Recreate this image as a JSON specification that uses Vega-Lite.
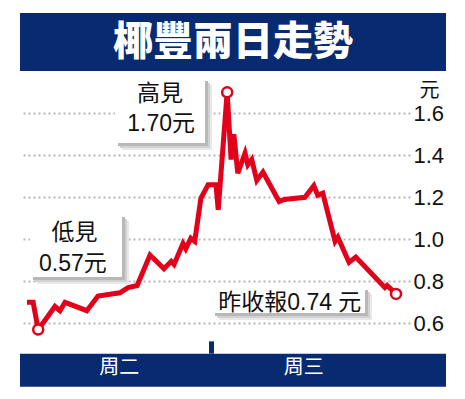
{
  "$schema": "https://vega.github.io/schema/vega-lite/v6.json",
  "width": 390,
  "height": 399,
  "autosize": "none",
  "padding": {"left": 20, "right": 55, "top": 0, "bottom": 0},
  "background": "#ffffff",
  "config": {"view": {"stroke": null}},
  "datasets": {
    "bars": [
      {"t": -12.5, "t2": 749.4, "v": 2.0776, "v2": 1.8014},
      {"t": -12.5, "t2": 749.4, "v": 0.4555, "v2": 0.2983}
    ],
    "divider": [{"t": 330, "v": 0.514, "v2": 0.4555}],
    "boxes": [
      {"t": 157.4, "t2": 318.4, "v": 1.768, "v2": 1.459},
      {"t": 5.4, "t2": 169.9, "v": 1.1205, "v2": 0.8205},
      {"t": 330.9, "t2": 604.5, "v": 0.7729, "v2": 0.6491}
    ],
    "price": [
      {"t": 0, "v": 0.70}, {"t": 11, "v": 0.70}, {"t": 20, "v": 0.57}, {"t": 50, "v": 0.68},
      {"t": 59, "v": 0.66}, {"t": 68, "v": 0.70}, {"t": 107, "v": 0.66}, {"t": 127, "v": 0.73},
      {"t": 166, "v": 0.745}, {"t": 181, "v": 0.77}, {"t": 197, "v": 0.78}, {"t": 220, "v": 0.925},
      {"t": 245, "v": 0.86}, {"t": 258, "v": 0.895}, {"t": 263, "v": 0.88}, {"t": 279, "v": 0.98},
      {"t": 284, "v": 0.955}, {"t": 293, "v": 1.005}, {"t": 300, "v": 0.99}, {"t": 311, "v": 1.195},
      {"t": 324, "v": 1.26}, {"t": 338, "v": 1.26}, {"t": 342, "v": 1.14}, {"t": 358, "v": 1.70},
      {"t": 365, "v": 1.38}, {"t": 370, "v": 1.50}, {"t": 377, "v": 1.315}, {"t": 390, "v": 1.41},
      {"t": 395, "v": 1.355}, {"t": 402, "v": 1.38}, {"t": 411, "v": 1.28}, {"t": 422, "v": 1.32},
      {"t": 451, "v": 1.18}, {"t": 460, "v": 1.19}, {"t": 497, "v": 1.20}, {"t": 513, "v": 1.255},
      {"t": 520, "v": 1.21}, {"t": 529, "v": 1.22}, {"t": 551, "v": 0.99}, {"t": 556, "v": 1.01},
      {"t": 576, "v": 0.89}, {"t": 588, "v": 0.915}, {"t": 640, "v": 0.77}, {"t": 644, "v": 0.78},
      {"t": 660, "v": 0.74}
    ],
    "marks": [
      {"t": 20, "v": 0.57}, {"t": 358, "v": 1.70}, {"t": 660, "v": 0.74}
    ],
    "title": [{"t": 368.5, "v": 1.937, "label": "椰豐兩日走勢"}],
    "days": [
      {"t": 165, "v": 0.3871, "label": "周二"},
      {"t": 495, "v": 0.3871, "label": "周三"}
    ],
    "notes": [
      {"t": 238, "v": 1.692, "label": "高見"},
      {"t": 240, "v": 1.549, "label": "1.70元"},
      {"t": 85, "v": 1.030, "label": "低見"},
      {"t": 82, "v": 0.882, "label": "0.57元"},
      {"t": 470, "v": 0.699, "label": "昨收報0.74 元"}
    ]
  },
  "encoding": {
    "x": {"field": "t", "type": "quantitative", "scale": {"domain": [-12.5, 685], "nice": false, "zero": false}, "axis": null},
    "y": {"field": "v", "type": "quantitative", "scale": {"domain": [0.2395, 2.1395], "nice": false, "zero": false},
      "axis": {"orient": "right", "values": [0.6, 0.8, 1.0, 1.2, 1.4, 1.6], "format": ".1f", "domain": false, "ticks": false, "tickSize": 0,
        "labelPadding": 3, "labelFont": "Liberation Sans", "labelFontSize": 22, "labelColor": "#111111",
        "grid": true, "gridColor": "#b5b5b5", "gridDash": [2, 3], "gridWidth": 2,
        "title": "元", "titleAngle": 0, "titleX": 19, "titleY": 90, "titleAlign": "center", "titleBaseline": "middle",
        "titleFont": "Noto Sans CJK TC", "titleFontSize": 20, "titleFontWeight": "normal", "titleColor": "#111111"}}
  },
  "layer": [
    {"data": {"name": "bars"}, "mark": {"type": "rect", "color": "#082a70"},
      "encoding": {"x2": {"field": "t2"}, "y2": {"field": "v2"}}},
    {"data": {"name": "divider"}, "mark": {"type": "rule", "color": "#082a70", "strokeWidth": 5},
      "encoding": {"y2": {"field": "v2"}}},
    {"data": {"name": "boxes"}, "mark": {"type": "rect", "color": "#e8e8e8", "xOffset": 7, "x2Offset": 7, "yOffset": 7, "y2Offset": 7},
      "encoding": {"x2": {"field": "t2"}, "y2": {"field": "v2"}}},
    {"data": {"name": "boxes"}, "mark": {"type": "rect", "color": "#d2d2d2", "xOffset": 5, "x2Offset": 5, "yOffset": 5, "y2Offset": 5},
      "encoding": {"x2": {"field": "t2"}, "y2": {"field": "v2"}}},
    {"data": {"name": "boxes"}, "mark": {"type": "rect", "color": "#b8b8b8", "xOffset": 3, "x2Offset": 3, "yOffset": 3, "y2Offset": 3},
      "encoding": {"x2": {"field": "t2"}, "y2": {"field": "v2"}}},
    {"data": {"name": "boxes"}, "mark": {"type": "rect", "color": "#ffffff"},
      "encoding": {"x2": {"field": "t2"}, "y2": {"field": "v2"}}},
    {"data": {"name": "price"}, "mark": {"type": "line", "color": "#e2001a", "strokeWidth": 5, "strokeJoin": "miter", "strokeCap": "butt"},
      "encoding": {}},
    {"data": {"name": "marks"}, "mark": {"type": "point", "shape": "circle", "filled": true, "fill": "#ffffff", "stroke": "#e2001a", "strokeWidth": 2.5, "size": 100, "opacity": 1},
      "encoding": {}},
    {"data": {"name": "title"}, "mark": {"type": "text", "color": "#ffffff", "font": "Noto Sans CJK TC", "fontSize": 40, "fontWeight": 900, "align": "center", "baseline": "middle"},
      "encoding": {"text": {"field": "label"}}},
    {"data": {"name": "days"}, "mark": {"type": "text", "color": "#ffffff", "font": "Noto Sans CJK TC", "fontSize": 20, "fontWeight": "normal", "align": "center", "baseline": "middle"},
      "encoding": {"text": {"field": "label"}}},
    {"data": {"name": "notes"}, "mark": {"type": "text", "color": "#111111", "font": "Liberation Sans, Noto Sans CJK TC", "fontSize": 23, "align": "center", "baseline": "middle"},
      "encoding": {"text": {"field": "label"}}}
  ]
}
